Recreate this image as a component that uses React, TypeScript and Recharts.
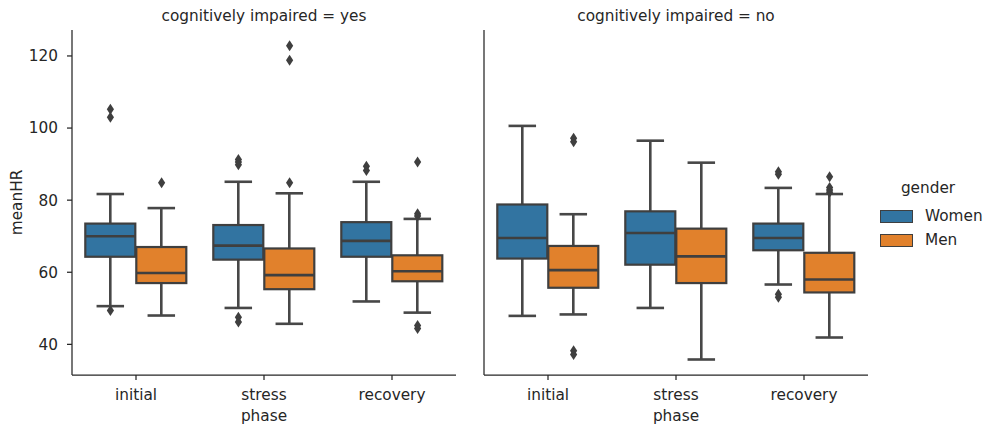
import React from "react";
import { Bar, ComposedChart, Scatter, XAxis, YAxis } from "recharts";

const phases = ["initial", "stress", "recovery"];

// each box: [whisker low, Q1, median, Q3, whisker high]
const yesWomen = [
  [50.6, 64.3, 70.0, 73.5, 81.7],
  [50.1, 63.5, 67.4, 73.1, 85.1],
  [51.9, 64.3, 68.7, 73.9, 85.1],
];
const yesMen = [
  [48.0, 57.0, 59.8, 67.0, 77.8],
  [45.7, 55.3, 59.2, 66.6, 81.9],
  [48.8, 57.5, 60.3, 64.7, 74.8],
];
const noWomen = [
  [47.9, 63.8, 69.5, 78.8, 100.6],
  [50.1, 62.1, 70.9, 76.9, 96.5],
  [56.6, 66.1, 69.5, 73.5, 83.4],
];
const noMen = [
  [48.3, 55.7, 60.6, 67.3, 76.1],
  [35.8, 57.0, 64.4, 72.1, 90.4],
  [41.9, 54.4, 58.0, 65.4, 81.7],
];

// outliers per phase
const yesWomenOut = [
  [105.2, 103.0, 49.4],
  [91.3, 90.6, 89.8, 47.5, 46.2],
  [89.4, 88.2],
];
const yesMenOut = [[84.8], [122.8, 118.8, 84.8], [90.6, 76.2, 75.6, 45.2, 44.4]];
const noWomenOut = [[], [], [87.9, 87.2, 53.9, 53.1]];
const noMenOut = [[97.2, 96.2, 38.2, 37.2], [], [86.5, 83.5, 82.8, 82.2]];

const yTicks = [40, 60, 80, 100, 120];
const yDomain = [31.5, 127.2];

const BLUE = "#3274a1";
const ORANGE = "#e1812c";
const GRAY = "#3f3f3f";
const WHISKER = "#474747";
const INK = "#262626";
const FONT = 15.3;

function BoxShape(props: any) {
  const { x, y, width, height, fill, stats } = props;
  const [lo, q1, med, q3, hi] = stats as number[];
  const top = Math.min(y, y + height);
  const h = Math.abs(height);
  const k = h / (q3 - q1);
  const py = (v: number) => top + (q3 - v) * k;
  const cx = x + width / 2;
  const cap = width * 0.25 + 1;
  return (
    <g>
      <line x1={cx} x2={cx} y1={py(hi)} y2={top} stroke={WHISKER} strokeWidth={2.6} />
      <line x1={cx} x2={cx} y1={top + h} y2={py(lo)} stroke={WHISKER} strokeWidth={2.6} />
      <line x1={cx - cap} x2={cx + cap} y1={py(hi)} y2={py(hi)} stroke={WHISKER} strokeWidth={2.6} />
      <line x1={cx - cap} x2={cx + cap} y1={py(lo)} y2={py(lo)} stroke={WHISKER} strokeWidth={2.6} />
      <rect x={x + 0.5} y={top} width={width - 1} height={h} fill={fill} stroke={GRAY} strokeWidth={2.2} />
      <line x1={x + 0.5} x2={x + width - 0.5} y1={py(med)} y2={py(med)} stroke={GRAY} strokeWidth={2.6} />
    </g>
  );
}

function Diamond(props: any) {
  const { cx, cy } = props;
  return (
    <path
      d={`M${cx},${cy - 5.5}L${cx + 3.6},${cy}L${cx},${cy + 5.5}L${cx - 3.6},${cy}Z`}
      fill={GRAY}
    />
  );
}

type PanelProps = {
  title: string;
  women: number[][];
  men: number[][];
  womenOut: number[][];
  menOut: number[][];
  left: number;
  axisWidth: number;
  showLabels: boolean;
};

function Panel({ title, women, men, womenOut, menOut, left, axisWidth, showLabels }: PanelProps) {
  const plotWidth = 384;
  const rows = phases.map((phase, i) => ({
    phase,
    womenBox: [women[i][1], women[i][3]],
    menBox: [men[i][1], men[i][3]],
    wStats: women[i],
    mStats: men[i],
  }));
  const points = [
    ...womenOut.flatMap((vals, i) => vals.map((v) => ({ x: i - 0.2, y: v }))),
    ...menOut.flatMap((vals, i) => vals.map((v) => ({ x: i + 0.2, y: v }))),
  ];

  return (
    <div style={{ position: "absolute", left, top: 0 }}>
      <div
        style={{
          position: "absolute",
          left: axisWidth,
          top: 7,
          width: plotWidth,
          textAlign: "center",
          fontSize: FONT,
          lineHeight: "18px",
          color: INK,
        }}
      >
        {title}
      </div>
      <ComposedChart
        width={axisWidth + plotWidth + 2}
        height={430}
        data={rows}
        margin={{ top: 30, right: 2, bottom: 9, left: 0 }}
        barCategoryGap="10%"
        barGap={0}
      >
        <XAxis
          dataKey="phase"
          height={46}
          tickSize={5}
          tickMargin={9}
          axisLine={{ stroke: INK, strokeWidth: 1.25 }}
          tickLine={{ stroke: INK, strokeWidth: 1.25 }}
          tick={{ fill: INK, fontSize: FONT }}
          label={{ value: "phase", position: "insideBottom", offset: 0, fill: INK, fontSize: FONT }}
        />
        <XAxis xAxisId="pts" type="number" dataKey="x" domain={[-0.5, 2.5]} allowDataOverflow hide />
        <YAxis
          type="number"
          domain={yDomain}
          ticks={yTicks}
          allowDataOverflow
          width={axisWidth}
          tickSize={5}
          tickMargin={9}
          axisLine={{ stroke: INK, strokeWidth: 1.25 }}
          tickLine={{ stroke: INK, strokeWidth: 1.25 }}
          tick={showLabels ? { fill: INK, fontSize: FONT } : false}
          label={
            showLabels
              ? (p: any) => {
                  const vb = p.viewBox;
                  const lx = vb.x + 17;
                  const ly = vb.y + vb.height / 2;
                  return (
                    <text
                      x={lx}
                      y={ly}
                      transform={`rotate(-90 ${lx} ${ly})`}
                      textAnchor="middle"
                      dominantBaseline="central"
                      fill={INK}
                      fontSize={FONT}
                    >
                      meanHR
                    </text>
                  );
                }
              : undefined
          }
        />
        <Bar
          dataKey="womenBox"
          fill={BLUE}
          isAnimationActive={false}
          shape={(p: any) => <BoxShape {...p} stats={p.payload.wStats} />}
        />
        <Bar
          dataKey="menBox"
          fill={ORANGE}
          isAnimationActive={false}
          shape={(p: any) => <BoxShape {...p} stats={p.payload.mStats} />}
        />
        <Scatter xAxisId="pts" data={points} dataKey="y" shape={Diamond} isAnimationActive={false} />
      </ComposedChart>
    </div>
  );
}

const legendItems = [
  { label: "Women", color: BLUE },
  { label: "Men", color: ORANGE },
];

export default function App() {
  return (
    <div
      style={{
        position: "absolute",
        left: 0,
        top: 0,
        width: 985,
        height: 430,
        background: "#fff",
        fontFamily: "'DejaVu Sans', sans-serif",
        overflow: "hidden",
      }}
    >
      <Panel
        title="cognitively impaired = yes"
        women={yesWomen}
        men={yesMen}
        womenOut={yesWomenOut}
        menOut={yesMenOut}
        left={0}
        axisWidth={72}
        showLabels
      />
      <Panel
        title="cognitively impaired = no"
        women={noWomen}
        men={noMen}
        womenOut={noWomenOut}
        menOut={noMenOut}
        left={470}
        axisWidth={14}
        showLabels={false}
      />
      <div style={{ position: "absolute", left: 0, top: 0, fontSize: FONT, color: INK }}>
        <div style={{ position: "absolute", left: 878, top: 179, width: 100, textAlign: "center", lineHeight: "18px" }}>
          gender
        </div>
        {legendItems.map((item, i) => (
          <div
            key={item.label}
            style={{ position: "absolute", left: 880, top: 207 + i * 24, height: 18, lineHeight: "18px", whiteSpace: "nowrap" }}
          >
            <span
              style={{
                position: "absolute",
                left: 0,
                top: 3,
                width: 31,
                height: 11,
                background: item.color,
                border: `1px solid ${GRAY}`,
              }}
            />
            <span style={{ position: "absolute", left: 45, top: 0 }}>{item.label}</span>
          </div>
        ))}
      </div>
    </div>
  );
}
